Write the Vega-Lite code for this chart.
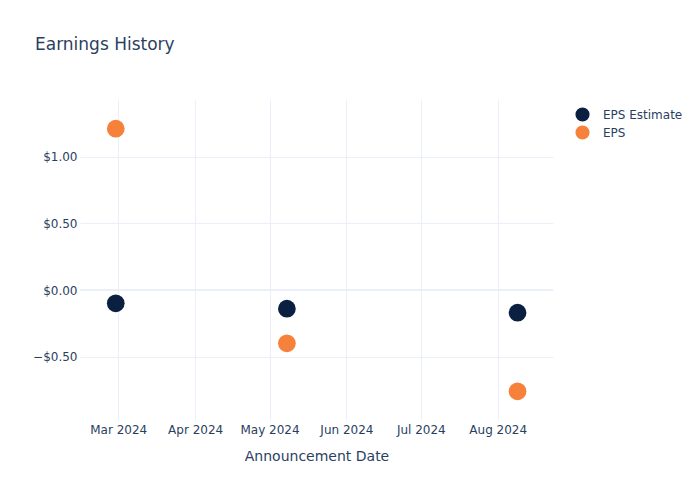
{
  "$schema": "https://vega.github.io/schema/vega-lite/v6.json",
  "autosize": "none",
  "width": 473,
  "height": 320,
  "padding": {"left": 80, "top": 100, "right": 147, "bottom": 80},
  "background": "white",
  "title": {
    "text": "Earnings History",
    "anchor": "start",
    "frame": "group",
    "dx": -45,
    "offset": 46,
    "font": "DejaVu Sans",
    "fontSize": 17,
    "fontWeight": "normal",
    "color": "#2a3f5f"
  },
  "config": {
    "view": {"stroke": null},
    "font": "DejaVu Sans"
  },
  "layer": [
    {
      "data": {"values": [{"zero": 0}]},
      "mark": {"type": "rule", "color": "#EBF0F8", "strokeWidth": 2},
      "encoding": {
        "y": {
          "field": "zero",
          "type": "quantitative",
          "title": null,
          "scale": {"domain": [-0.975, 1.425], "nice": false, "zero": false},
          "axis": {
            "title": null,
            "format": "$.2f",
            "values": [-0.5, 0, 0.5, 1],
            "grid": true,
            "gridColor": "#EBF0F8",
            "gridWidth": 1,
            "domain": false,
            "ticks": false,
            "labelPadding": 3,
            "labelFontSize": 12,
            "labelColor": "#2a3f5f",
            "labelFont": "DejaVu Sans"
          }
        }
      }
    },
    {
      "data": {
        "values": [
          {"date": "2024-02-29", "series": "EPS Estimate", "eps": -0.10},
          {"date": "2024-05-08", "series": "EPS Estimate", "eps": -0.14},
          {"date": "2024-08-09", "series": "EPS Estimate", "eps": -0.17},
          {"date": "2024-02-29", "series": "EPS", "eps": 1.21},
          {"date": "2024-05-08", "series": "EPS", "eps": -0.40},
          {"date": "2024-08-09", "series": "EPS", "eps": -0.76}
        ]
      },
      "mark": {"type": "point", "filled": true, "opacity": 1, "size": 314},
      "encoding": {
        "x": {
          "field": "date",
          "type": "temporal",
          "scale": {
            "type": "utc",
            "nice": false,
            "domain": [
              {"year": 2024, "month": 2, "date": 14, "hours": 14, "utc": true},
              {"year": 2024, "month": 8, "date": 23, "hours": 7, "utc": true}
            ]
          },
          "axis": {
            "title": "Announcement Date",
            "format": "%b %Y",
            "tickCount": {"interval": "month", "step": 1},
            "grid": true,
            "gridColor": "#EBF0F8",
            "gridWidth": 1,
            "domain": false,
            "ticks": false,
            "labelPadding": 4,
            "labelFontSize": 12,
            "labelColor": "#2a3f5f",
            "labelFont": "DejaVu Sans",
            "titleFont": "DejaVu Sans",
            "titleFontSize": 14,
            "titleFontWeight": "normal",
            "titleColor": "#2a3f5f",
            "titlePadding": 14
          }
        },
        "y": {
          "field": "eps",
          "type": "quantitative",
          "title": null,
          "scale": {"domain": [-0.975, 1.425], "nice": false, "zero": false},
          "axis": {
            "title": null,
            "format": "$.2f",
            "values": [-0.5, 0, 0.5, 1],
            "grid": true,
            "gridColor": "#EBF0F8",
            "gridWidth": 1,
            "domain": false,
            "ticks": false,
            "labelPadding": 3,
            "labelFontSize": 12,
            "labelColor": "#2a3f5f",
            "labelFont": "DejaVu Sans"
          }
        },
        "color": {
          "field": "series",
          "type": "nominal",
          "scale": {"domain": ["EPS Estimate", "EPS"], "range": ["#0b1f41", "#f6813a"]},
          "legend": {
            "title": null,
            "orient": "none",
            "legendX": 495,
            "legendY": 7,
            "padding": 0,
            "symbolType": "circle",
            "symbolSize": 200,
            "symbolStrokeWidth": 0,
            "symbolOpacity": 1,
            "rowPadding": 3,
            "labelOffset": 13,
            "labelFontSize": 12,
            "labelColor": "#2a3f5f",
            "labelFont": "DejaVu Sans"
          }
        }
      }
    }
  ]
}
